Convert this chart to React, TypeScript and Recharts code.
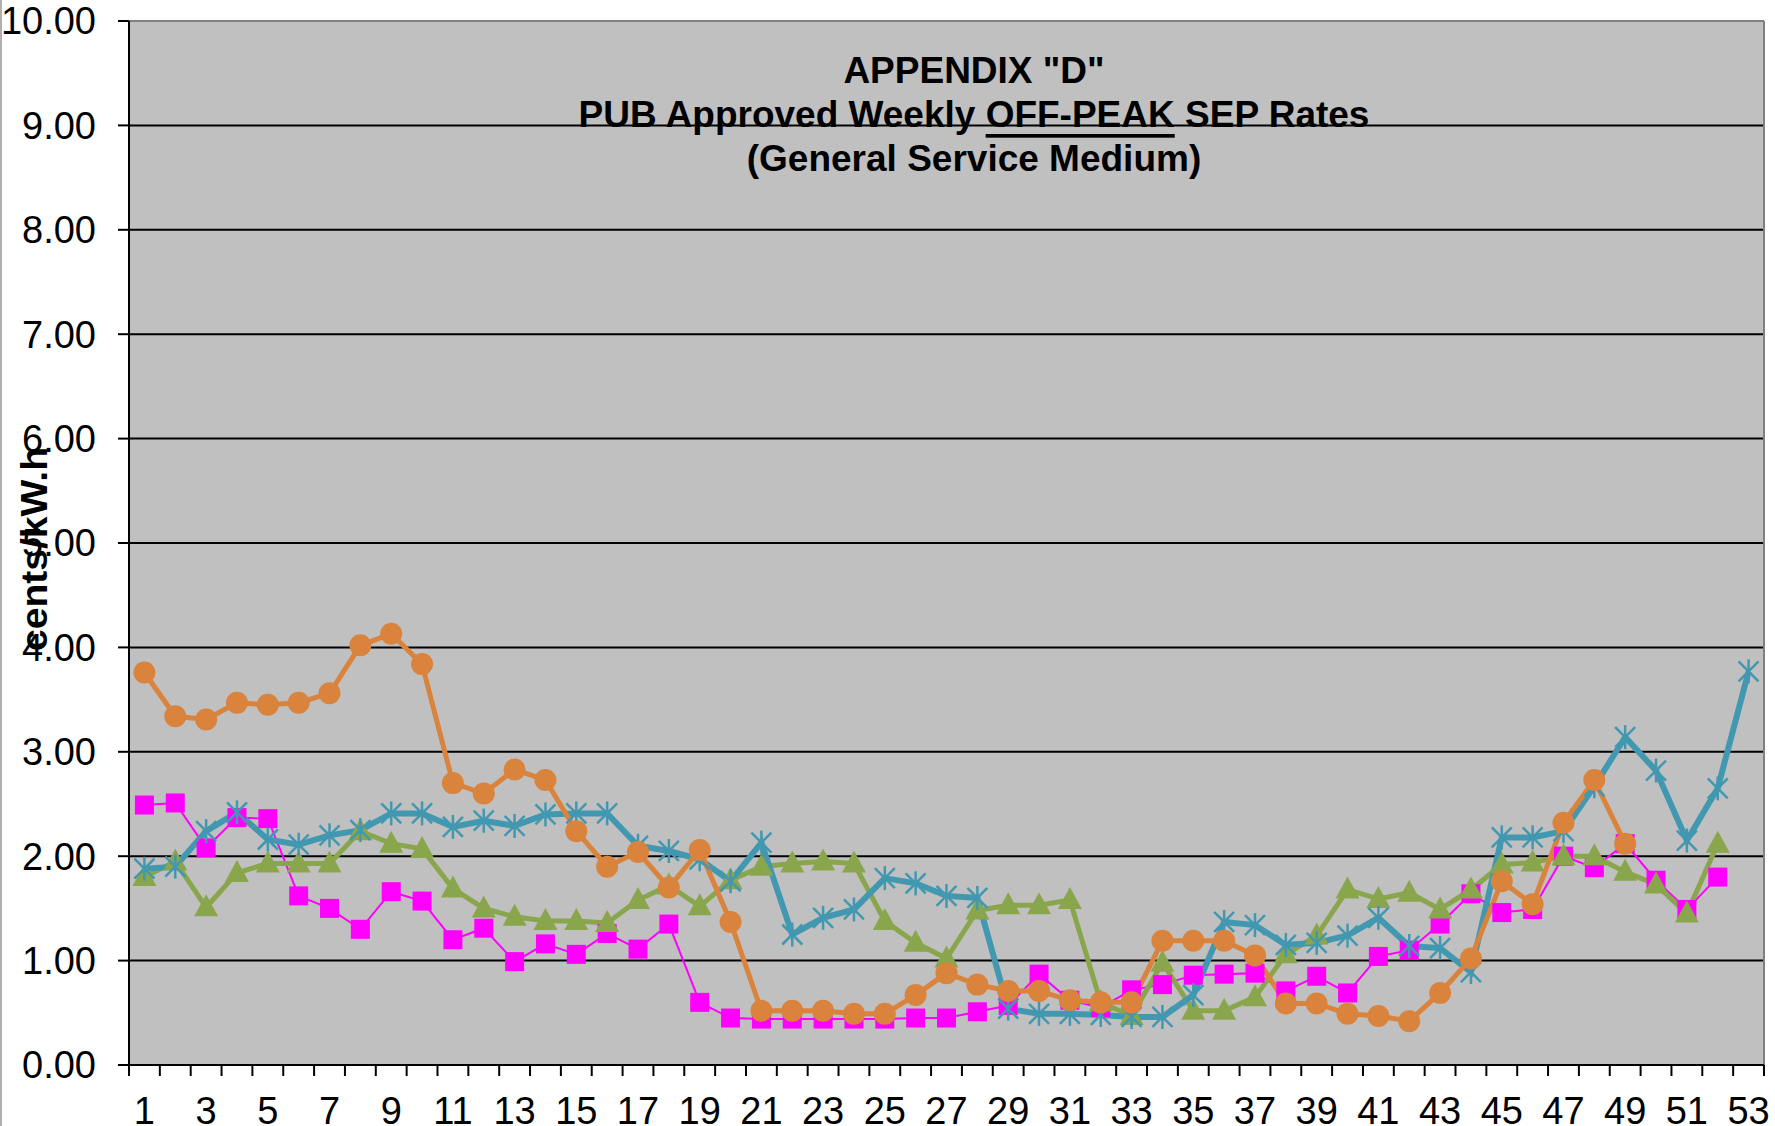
import React from 'react'
import { LineChart, Line, XAxis, YAxis, CartesianGrid, ReferenceLine } from 'recharts'

const FONT = '"Liberation Sans", Arial, sans-serif'

// week numbers 1..53
const weeks = [
  1, 2, 3, 4, 5, 6, 7, 8, 9, 10, 11, 12, 13, 14, 15, 16, 17, 18, 19, 20, 21, 22, 23, 24, 25, 26, 27,
  28, 29, 30, 31, 32, 33, 34, 35, 36, 37, 38, 39, 40, 41, 42, 43, 44, 45, 46, 47, 48, 49, 50, 51, 52, 53,
]

// cents/kW.h
const magenta = [
  2.49, 2.51, 2.08, 2.37, 2.36, 1.62, 1.5, 1.3, 1.66, 1.57, 1.2, 1.31, 0.99, 1.16, 1.06, 1.26, 1.11, 1.35,
  0.6, 0.45, 0.44, 0.44, 0.44, 0.44, 0.44, 0.45, 0.45, 0.51, 0.57, 0.87, 0.62, 0.55, 0.72, 0.77, 0.86,
  0.87, 0.88, 0.71, 0.85, 0.69, 1.04, 1.1, 1.35, 1.64, 1.46, 1.49, 2.0, 1.89, 2.12, 1.77, 1.49, 1.8, null,
]
const green = [
  1.8, 1.95, 1.51, 1.84, 1.93, 1.93, 1.93, 2.24, 2.12, 2.07, 1.69, 1.5, 1.42, 1.38, 1.38, 1.36, 1.58, 1.72,
  1.52, 1.77, 1.9, 1.93, 1.95, 1.93, 1.38, 1.17, 1.02, 1.48, 1.53, 1.53, 1.58, 0.6, 0.47, 0.98, 0.52, 0.52,
  0.65, 1.06, 1.24, 1.68, 1.59, 1.65, 1.49, 1.68, 1.92, 1.94, 2.0, 2.0, 1.85, 1.73, 1.45, 2.12, null,
]
const teal = [
  1.88, 1.9, 2.24, 2.42, 2.16, 2.11, 2.2, 2.25, 2.41, 2.41, 2.28, 2.34, 2.29, 2.4, 2.41, 2.41, 2.1, 2.05,
  1.97, 1.76, 2.13, 1.25, 1.41, 1.49, 1.79, 1.74, 1.62, 1.6, 0.54, 0.49, 0.49, 0.48, 0.46, 0.46, 0.67,
  1.37, 1.34, 1.15, 1.17, 1.24, 1.41, 1.14, 1.12, 0.89, 2.18, 2.18, 2.24, 2.67, 3.14, 2.82, 2.15, 2.65, 3.77,
]
const orange = [
  3.76, 3.34, 3.31, 3.47, 3.45, 3.47, 3.56, 4.02, 4.13, 3.84, 2.7, 2.6, 2.83, 2.73, 2.24, 1.9, 2.04, 1.7,
  2.06, 1.37, 0.52, 0.52, 0.52, 0.49, 0.49, 0.67, 0.88, 0.77, 0.71, 0.71, 0.62, 0.6, 0.6, 1.19, 1.19, 1.19,
  1.05, 0.59, 0.59, 0.49, 0.47, 0.42, 0.69, 1.02, 1.76, 1.54, 2.32, 2.73, 2.12, null, null, null, null,
]

const yTicks = [0, 1, 2, 3, 4, 5, 6, 7, 8, 9, 10]

const data = weeks.map((w, i) => ({ week: w, m: magenta[i], g: green[i], t: teal[i], o: orange[i] }))

// ticks at band edges (marks) and odd weeks (labels)
const xTicks = [0.5, ...weeks.flatMap(w => (w % 2 ? [w, w + 0.5] : [w + 0.5]))]

const C_MAG = '#ff00ff'
const C_GRN = '#8aa64c'
const C_TEAL = '#4198b0'
const C_ORG = '#da833c'

function WeekTick({ x, y, payload }: any) {
  const v = payload.value
  if (v % 1 !== 0) {
    return <line x1={x} x2={x} y1={y} y2={y + 11} stroke="#000" strokeWidth={2} />
  }
  return (
    <text x={x} y={y + 32} dy="0.71em" textAnchor="middle" fontSize={38} fontFamily={FONT} fill="#000">
      {v}
    </text>
  )
}

const ok = (p: any) => p.cx != null && p.cy != null && p.value != null && !Number.isNaN(p.cy)

const SquareDot = (p: any) =>
  ok(p) ? <rect key={p.index} x={p.cx - 9.5} y={p.cy - 9.5} width={19} height={19} fill={C_MAG} /> : <g key={p.index} />

const TriDot = (p: any) =>
  ok(p) ? (
    <polygon key={p.index} points={`${p.cx},${p.cy - 13} ${p.cx + 12},${p.cy + 9} ${p.cx - 12},${p.cy + 9}`} fill={C_GRN} />
  ) : (
    <g key={p.index} />
  )

const StarDot = (p: any) =>
  ok(p) ? (
    <g key={p.index} stroke={C_TEAL} strokeWidth={2.5}>
      <line x1={p.cx - 10} y1={p.cy - 10} x2={p.cx + 10} y2={p.cy + 10} />
      <line x1={p.cx - 10} y1={p.cy + 10} x2={p.cx + 10} y2={p.cy - 10} />
      <line x1={p.cx} y1={p.cy - 12} x2={p.cx} y2={p.cy + 12} />
    </g>
  ) : (
    <g key={p.index} />
  )

const CircleDot = (p: any) =>
  ok(p) ? <circle key={p.index} cx={p.cx} cy={p.cy} r={11} fill={C_ORG} /> : <g key={p.index} />

export default function App() {
  return (
    <div style={{ position: 'absolute', left: 0, top: 0, width: 1775, height: 1126, background: '#fff' }}>
      <LineChart width={1775} height={1126} data={data} margin={{ top: 21, right: 11, bottom: 0, left: 0 }}>
        <CartesianGrid vertical={false} stroke="#000" strokeWidth={2} fill="#c0c0c0" fillOpacity={1} />
        <XAxis
          dataKey="week"
          type="number"
          domain={[0.5, 53.5]}
          ticks={xTicks}
          interval={0}
          tick={<WeekTick />}
          tickLine={false}
          tickSize={0}
          tickMargin={0}
          axisLine={{ stroke: '#000', strokeWidth: 2 }}
          height={61}
        />
        <YAxis
          domain={[0, 10]}
          ticks={yTicks}
          interval={0}
          width={129}
          tickFormatter={(v: number) => v.toFixed(2)}
          tick={{ fontSize: 38, fill: '#000', fontFamily: FONT }}
          tickSize={11}
          tickMargin={22}
          tickLine={{ stroke: '#000', strokeWidth: 2 }}
          axisLine={{ stroke: '#000', strokeWidth: 2 }}
        />
        <ReferenceLine y={10} stroke="#808080" strokeWidth={2} />
        <ReferenceLine x={53.5} stroke="#808080" strokeWidth={2} />
        <Line dataKey="m" stroke={C_MAG} strokeWidth={2} dot={SquareDot} isAnimationActive={false} />
        <Line dataKey="g" stroke={C_GRN} strokeWidth={5} dot={TriDot} isAnimationActive={false} />
        <Line dataKey="t" stroke={C_TEAL} strokeWidth={6} dot={StarDot} isAnimationActive={false} />
        <Line dataKey="o" stroke={C_ORG} strokeWidth={5} dot={CircleDot} isAnimationActive={false} />
      </LineChart>
      <svg width={1775} height={1126} style={{ position: 'absolute', left: 0, top: 0, pointerEvents: 'none' }}>
        <line x1={1} y1={0} x2={1} y2={1126} stroke="#b0b0b0" strokeWidth={2} />
        <g fontFamily={FONT} fontWeight="bold" fontSize={37} fill="#000" textAnchor="middle">
          <text x={974} y={70} dominantBaseline="central">APPENDIX "D"</text>
          <text x={974} y={114} dominantBaseline="central">
            PUB Approved Weekly <tspan style={{ textDecoration: 'underline' }}>OFF-PEAK</tspan> SEP Rates
          </text>
          <text x={974} y={158} dominantBaseline="central">(General Service Medium)</text>
        </g>
        <text
          x={34}
          y={549}
          transform="rotate(-90 34 549)"
          textAnchor="middle"
          dominantBaseline="central"
          fontFamily={FONT}
          fontWeight="bold"
          fontSize={36}
          textLength={204}
          lengthAdjust="spacingAndGlyphs"
          fill="#000"
        >
          cents/kW.h
        </text>
      </svg>
    </div>
  )
}
